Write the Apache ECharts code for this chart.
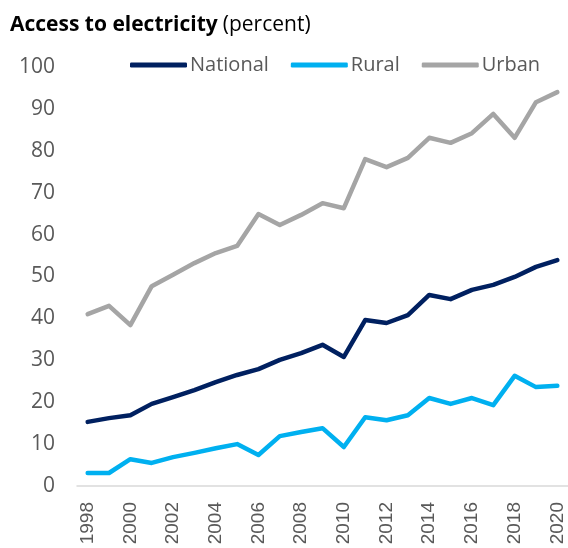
<!DOCTYPE html>
<html>
<head>
<meta charset="utf-8">
<script src="https://cdn.jsdelivr.net/npm/echarts@6/dist/echarts.min.js"></script>
<style>
    html, body { margin: 0; padding: 0; background: #fff; }
    #chart { width: 568px; height: 548px; }
</style>
</head>
<body>
<div id="chart"></div>
<script>
// years on the x axis
const years = ['1998', '1999', '2000', '2001', '2002', '2003', '2004', '2005', '2006', '2007', '2008',
    '2009', '2010', '2011', '2012', '2013', '2014', '2015', '2016', '2017', '2018', '2019', '2020'];

// access to electricity, percent
const national = [15.3, 16.2, 16.9, 19.6, 21.2, 22.9, 24.8, 26.5, 27.9, 30.1, 31.7,
    33.7, 30.8, 39.6, 38.9, 40.8, 45.6, 44.6, 46.8, 48.0, 49.9, 52.3, 53.9];
const rural = [3.1, 3.1, 6.4, 5.5, 6.9, 7.9, 9.0, 10.0, 7.4, 11.9, 12.9,
    13.8, 9.3, 16.4, 15.7, 16.9, 21.0, 19.6, 21.0, 19.3, 26.3, 23.6, 23.9];
const urban = [41.0, 43.0, 38.4, 47.7, 50.4, 53.2, 55.6, 57.3, 64.9, 62.3, 64.7,
    67.5, 66.3, 78.0, 76.1, 78.3, 83.1, 81.9, 84.2, 88.8, 83.1, 91.6, 94.0];

let chart = echarts.init(document.getElementById('chart'));

const lineSeries = (name, data, color) => ({
    name: name,
    type: 'line',
    data: data,
    showSymbol: false,
    lineStyle: { width: 4.5, color: color, cap: 'round', join: 'round' },
    itemStyle: { color: color },
    animation: false
});

let option = {
    title: {
        text: '{b|Access to electricity} {n|(percent)}',
        left: 5,
        top: 10,
        textStyle: {
            rich: {
                b: { fontFamily: 'Open Sans', fontWeight: 'bold', fontSize: 21, color: '#000' },
                n: { fontFamily: 'Open Sans', fontWeight: 'normal', fontSize: 21, color: '#000' }
            }
        }
    },
    legend: {
        top: 50,
        left: 125,
        itemWidth: 57,
        itemHeight: 5,
        itemGap: 22,
        icon: 'roundRect',
        textStyle: { fontFamily: 'Open Sans', fontSize: 20, color: '#595959', padding: [0, 0, 0, -2] },
        data: ['National', 'Rural', 'Urban']
    },
    grid: {
        left: 77,
        width: 494,
        top: 67,
        bottom: 62
    },
    xAxis: {
        type: 'category',
        data: years,
        boundaryGap: true,
        axisLine: { lineStyle: { color: '#d9d9d9', width: 1.5 } },
        axisTick: { show: false },
        axisLabel: {
            interval: 1,
            rotate: 90,
            margin: 16,
            fontFamily: 'Liberation Sans',
            fontSize: 19,
            color: '#595959'
        }
    },
    yAxis: {
        type: 'value',
        min: 0,
        max: 100,
        interval: 10,
        axisLine: { show: false },
        axisTick: { show: false },
        splitLine: { show: false },
        axisLabel: {
            margin: 22,
            fontFamily: 'Open Sans',
            fontSize: 21,
            color: '#595959'
        }
    },
    series: [
        lineSeries('National', national, '#002060'),
        lineSeries('Rural', rural, '#00b0f0'),
        lineSeries('Urban', urban, '#a5a5a5')
    ]
};

chart.setOption(option);
</script>
</body>
</html>
